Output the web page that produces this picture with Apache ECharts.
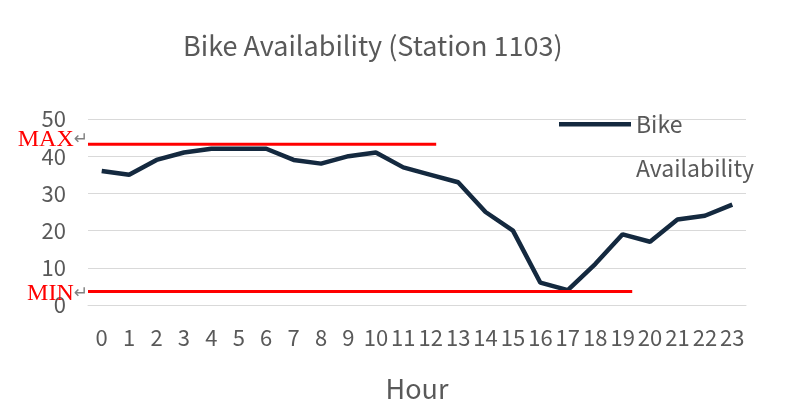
<!DOCTYPE html>
<html><head><meta charset="utf-8">
<script src="https://cdn.jsdelivr.net/npm/echarts@6/dist/echarts.min.js"></script>
<style>html,body{margin:0;padding:0;background:#fff}#c{width:800px;height:412px}</style>
</head><body><div id="c"></div>
<script>
const titleText = 'Bike Availability (Station 1103)';
const xAxisName = 'Hour';
const seriesName = 'Bike Availability';
const hours = ['0','1','2','3','4','5','6','7','8','9','10','11','12','13','14','15','16','17','18','19','20','21','22','23'];
const availability = [36,35,39,41,42,42,42,39,38,40,41,37,35,33,25,20,6,4,11,19,17,23,24,27];
const yTicks = [0,10,20,30,40,50];
// red annotation lines (value, start hour, end hour)
const maxLine = [[-0.5, 43.2], [12.2, 43.2]];
const minLine = [[-0.5, 3.6], [19.35, 3.6]];

const FONT = '"Noto Sans CJK KR", "Noto Sans", sans-serif';
const TXT = '#595959';
const chart = echarts.init(document.getElementById('c'), null, {renderer: 'canvas'});

function annot(name, pts, tag, offY) {
  return {
    name: name, type: 'line', xAxisIndex: 1, yAxisIndex: 0, silent: true,
    symbol: 'circle', symbolSize: 0, showSymbol: true,
    lineStyle: {color: '#ff0000', width: 3}, itemStyle: {color: '#ff0000'},
    data: pts.map((p, i) => i === 0 ? {
      value: p,
      label: {show: true, position: 'left', distance: 0, offset: [0, offY],
        formatter: '{m|' + tag + '}{r|↵}',
        rich: {
          m: {fontFamily: '"Liberation Serif", serif', fontSize: 24, color: '#ff0000'},
          r: {fontFamily: '"DejaVu Sans", sans-serif', fontSize: 17, color: '#808080'}
        }}
    } : {value: p}),
    z: 5
  };
}

chart.setOption({
  animation: false,
  title: {text: titleText, left: 178, top: 27,
    textStyle: {fontFamily: FONT, fontSize: 27, fontWeight: 'normal', color: TXT}},
  legend: {
    data: [seriesName], left: 554, top: 97, itemWidth: 72, itemHeight: 48, itemGap: 0,
    symbolKeepAspect: false,
    icon: 'path://M0,0L72,0L72,4.5L0,4.5ZM0,48L0,48',
    formatter: n => n.replace(' ', '\n'),
    textStyle: {fontFamily: FONT, fontSize: 23, color: TXT, lineHeight: 44}
  },
  grid: {left: 88, right: 54, top: 119, bottom: 107, containLabel: false},
  xAxis: [{
    type: 'category', data: hours, boundaryGap: true,
    name: xAxisName, nameLocation: 'middle', nameGap: 70,
    nameTextStyle: {fontFamily: FONT, fontSize: 27, color: TXT},
    axisLine: {show: true, lineStyle: {color: '#d9d9d9', width: 1}},
    axisTick: {show: false},
    axisLabel: {fontFamily: FONT, fontSize: 22, color: TXT, margin: 22, interval: 0}
  }, {
    type: 'value', min: -0.5, max: 23.5, show: false
  }],
  yAxis: {
    type: 'value', min: yTicks[0], max: yTicks[yTicks.length - 1], interval: 10,
    axisLine: {show: false}, axisTick: {show: false},
    axisLabel: {fontFamily: FONT, fontSize: 22, color: TXT, margin: 22},
    splitLine: {lineStyle: {color: '#d9d9d9', width: 1}}
  },
  series: [
    {name: seriesName, type: 'line', data: availability, symbol: 'none',
      lineStyle: {color: '#14293f', width: 4.5}, itemStyle: {color: '#14293f'}, z: 3},
    annot('MAX', maxLine, 'MAX', -5),
    annot('MIN', minLine, 'MIN', 2)
  ]
});
</script></body></html>
